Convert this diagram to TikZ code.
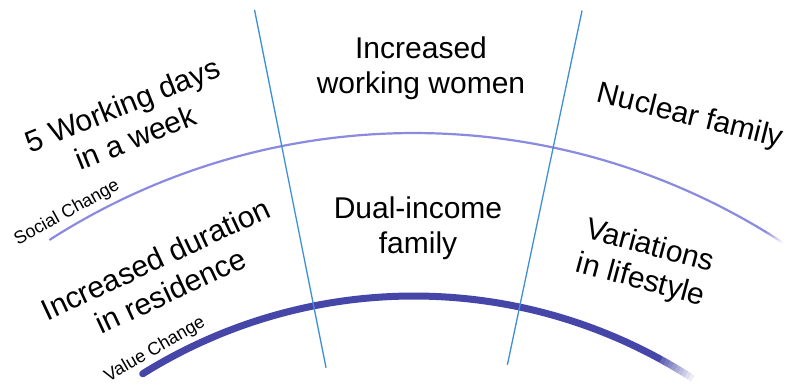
\documentclass[tikz,border=0pt]{standalone}
\usepackage{fontspec}
\setmainfont{Liberation Sans}
\usetikzlibrary{calc}
\definecolor{divider}{HTML}{3D8FD6}
\definecolor{socialarc}{HTML}{8A8AE0}
\definecolor{valuearc}{HTML}{4646A8}
\begin{document}
\begin{tikzpicture}[x=1pt,y=1pt,
  divline/.style={draw=divider, line width=1.3pt},
  bigtext/.style={font=\fontsize{30}{35}\selectfont, align=center, inner sep=0pt, text=black},
  smalltext/.style={font=\fontsize{18}{21}\selectfont, inner sep=0pt, text=black},
  socialstroke/.style={draw=socialarc, line width=2.2pt},
  valuestroke/.style={draw=valuearc, line width=7pt},
]
\useasboundingbox (0,0) rectangle (786,390);
\coordinate (C) at (414,-418);
% arcs
\draw[socialstroke] ($(C)+(122.7:675pt)$) arc[start angle=122.7, end angle=58.5, radius=675pt];
\foreach \i [evaluate=\i as \op using {1-(\i+1)/9}, evaluate=\i as \sa using {58.5-\i*0.2}, evaluate=\i as \ea using {58.5-(\i+1)*0.2}] in {0,...,7}
  \draw[socialstroke, draw opacity=\op] ($(C)+(\sa:675pt)$) arc[start angle=\sa, end angle=\ea, radius=675pt];
\draw[valuestroke, line cap=round] ($(C)+(122:512pt)$) arc[start angle=122, end angle=61.5, radius=512pt];
\foreach \i [evaluate=\i as \op using {1-(\i+1)/11}, evaluate=\i as \sa using {61.5-\i*0.45}, evaluate=\i as \ea using {61.5-(\i+1)*0.45}] in {0,...,9}
  \draw[valuestroke, draw opacity=\op] ($(C)+(\sa:512pt)$) arc[start angle=\sa, end angle=\ea, radius=512pt];
% dividers
\coordinate (LT) at ($(C)+(101.3:814pt)$);
\coordinate (LB) at ($(C)+(101.3:449pt)$);
\coordinate (RT) at ($(C)+(78.1:815pt)$);
\coordinate (RB) at ($(C)+(78.1:453pt)$);
\draw[divline] (LT) -- (LB);
\draw[divline] (RT) -- (RB);
% texts
\node[bigtext] (women) at (421,322) {Increased\\working women};
\node[bigtext] (dual) at (418,162) {Dual-income\\family};
\node[bigtext, rotate=22] (days) at (129,269) {5 Working days\\in a week};
\node[bigtext, rotate=25] (residence) at (163,115) {Increased duration\\in residence};
\node[bigtext, rotate=-14] (nuclear) at (690,273) {Nuclear family};
\node[bigtext, rotate=-15] (lifestyle) at (645,126) {Variations\\in lifestyle};
\node[smalltext, rotate=29] (social) at (67,177) {Social Change};
\node[smalltext, rotate=30] (value) at (155,40) {Value Change};
\end{tikzpicture}
\end{document}
